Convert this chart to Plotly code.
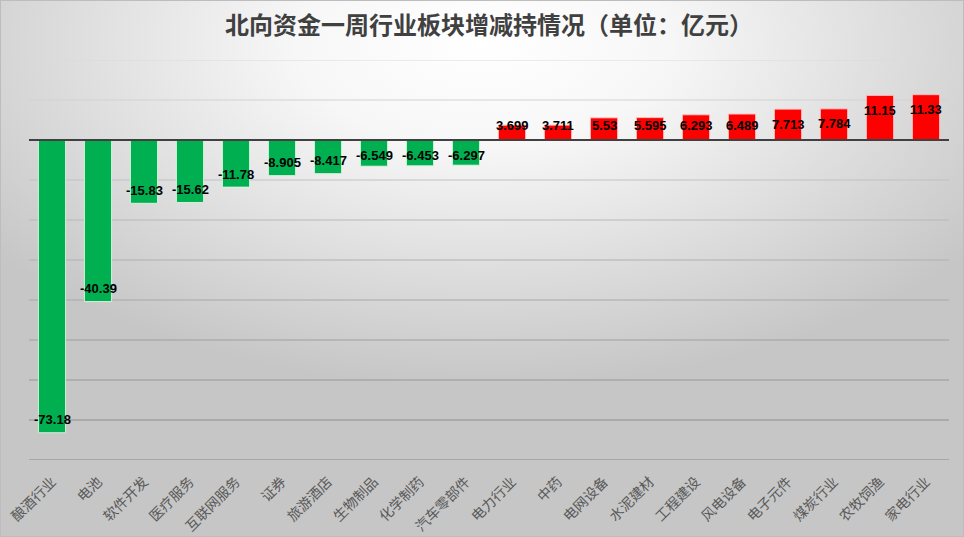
import base64
import plotly.graph_objects as go

categories = ["酿酒行业", "电池", "软件开发", "医疗服务", "互联网服务", "证券", "旅游酒店",
              "生物制品", "化学制药", "汽车零部件", "电力行业", "中药", "电网设备", "水泥建材",
              "工程建设", "风电设备", "电子元件", "煤炭行业", "农牧饲渔", "家电行业"]
values = [-73.18, -40.39, -15.83, -15.62, -11.78, -8.905, -8.417, -6.549, -6.453, -6.297,
          3.699, 3.711, 5.53, 5.595, 6.293, 6.489, 7.713, 7.784, 11.15, 11.33]
labels = ["-73.18", "-40.39", "-15.83", "-15.62", "-11.78", "-8.905", "-8.417", "-6.549",
          "-6.453", "-6.297", "3.699", "3.711", "5.53", "5.595", "6.293", "6.489", "7.713",
          "7.784", "11.15", "11.33"]
title = "北向资金一周行业板块增减持情况（单位：亿元）"

W, H = 964, 537
ML, MR, MT, MB = 29, 15, 60, 77
PW, PH = W - ML - MR, H - MT - MB
YMIN, YMAX = -80, 20

svg = f'''<svg xmlns="http://www.w3.org/2000/svg" width="{W}" height="{H}" viewBox="0 0 {W} {H}" preserveAspectRatio="none">
<defs><radialGradient id="g" cx="0.5" cy="0.08" r="0.64" gradientUnits="objectBoundingBox">
<stop offset="0" stop-color="#ffffff"/><stop offset="0.3" stop-color="#f7f7f7"/>
<stop offset="1" stop-color="#c6c6c6"/></radialGradient></defs>
<rect x="0" y="0" width="{W}" height="{H}" fill="url(#g)"/>
<rect x="0.5" y="0.5" width="{W-1}" height="{H-1}" fill="none" stroke="#bdbdbd" stroke-width="1"/>
</svg>'''
bg_uri = "data:image/svg+xml;base64," + base64.b64encode(svg.encode("utf-8")).decode("ascii")

colors = ["#00B050" if v < 0 else "#FF0000" for v in values]
edge = ["rgba(220,245,225,0.9)" if v < 0 else "rgba(255,190,190,0.9)" for v in values]

fig = go.Figure()
fig.add_trace(go.Bar(x=categories, y=values, marker=dict(color=colors, line=dict(color=edge, width=1)),
                     hoverinfo="x+y"))

# data labels: "inside end", kept clear of the zero line
px_per_unit = PH / (YMAX - YMIN)
for c, v, t in zip(categories, values, labels):
    if v >= 0:
        ly = max(v - 15 / px_per_unit, 15 / px_per_unit)
    else:
        ly = min(v + 13 / px_per_unit, -15 / px_per_unit)
    fig.add_annotation(x=c, y=ly, text=f"<b>{t}</b>", showarrow=False, xanchor="center", yanchor="middle",
                       font=dict(family="Liberation Sans, Arial, sans-serif", size=13, color="#000000"))

# gridlines with the darkening tone of the original
shapes = []
for gv in range(YMIN, YMAX + 1, 10):
    if gv == 0:
        continue
    frac = (gv - YMIN) / (YMAX - YMIN)
    g = int(round(0x86 + (0xda - 0x86) * frac))
    col = f"rgb({g},{g},{g})"
    shapes.append(dict(type="line", xref="paper", yref="y", x0=0, x1=1, y0=gv, y1=gv,
                       line=dict(color=col, width=1), layer="below"))
shapes.append(dict(type="line", xref="paper", yref="y", x0=0, x1=1, y0=0, y1=0,
                   line=dict(color="#404040", width=2), layer="above"))

fig.update_layout(
    width=W, height=H,
    margin=dict(l=ML, r=MR, t=MT, b=MB, autoexpand=False),
    paper_bgcolor="rgba(0,0,0,0)", plot_bgcolor="rgba(0,0,0,0)",
    title=dict(text=f"<b>{title}</b>", x=0.5, xref="paper", xanchor="center", y=1 - 26 / H, yanchor="middle",
               font=dict(family="Noto Sans CJK SC", size=24, color="#404040")),
    bargap=0.41,
    showlegend=False,
    shapes=shapes,
    images=[dict(source=bg_uri, xref="paper", yref="paper", x=-ML / PW, y=1 + MT / PH,
                 sizex=W / PW, sizey=H / PH, sizing="stretch", xanchor="left", yanchor="top",
                 layer="below")],
    xaxis=dict(range=[-0.5, len(categories) - 0.5], tickangle=-45, showgrid=False, showline=False,
               zeroline=False, ticks="outside", ticklen=7, tickcolor="rgba(0,0,0,0)", automargin=False,
               tickfont=dict(family="Noto Sans CJK SC", size=14, color="#595959")),
    yaxis=dict(range=[YMIN, YMAX], dtick=10, showgrid=False, zeroline=False, showticklabels=False,
               showline=False, automargin=False),
)

fig.write_html("out.html", config={"displayModeBar": False},
               post_script="document.body.style.margin='0';document.body.style.overflow='hidden';")
